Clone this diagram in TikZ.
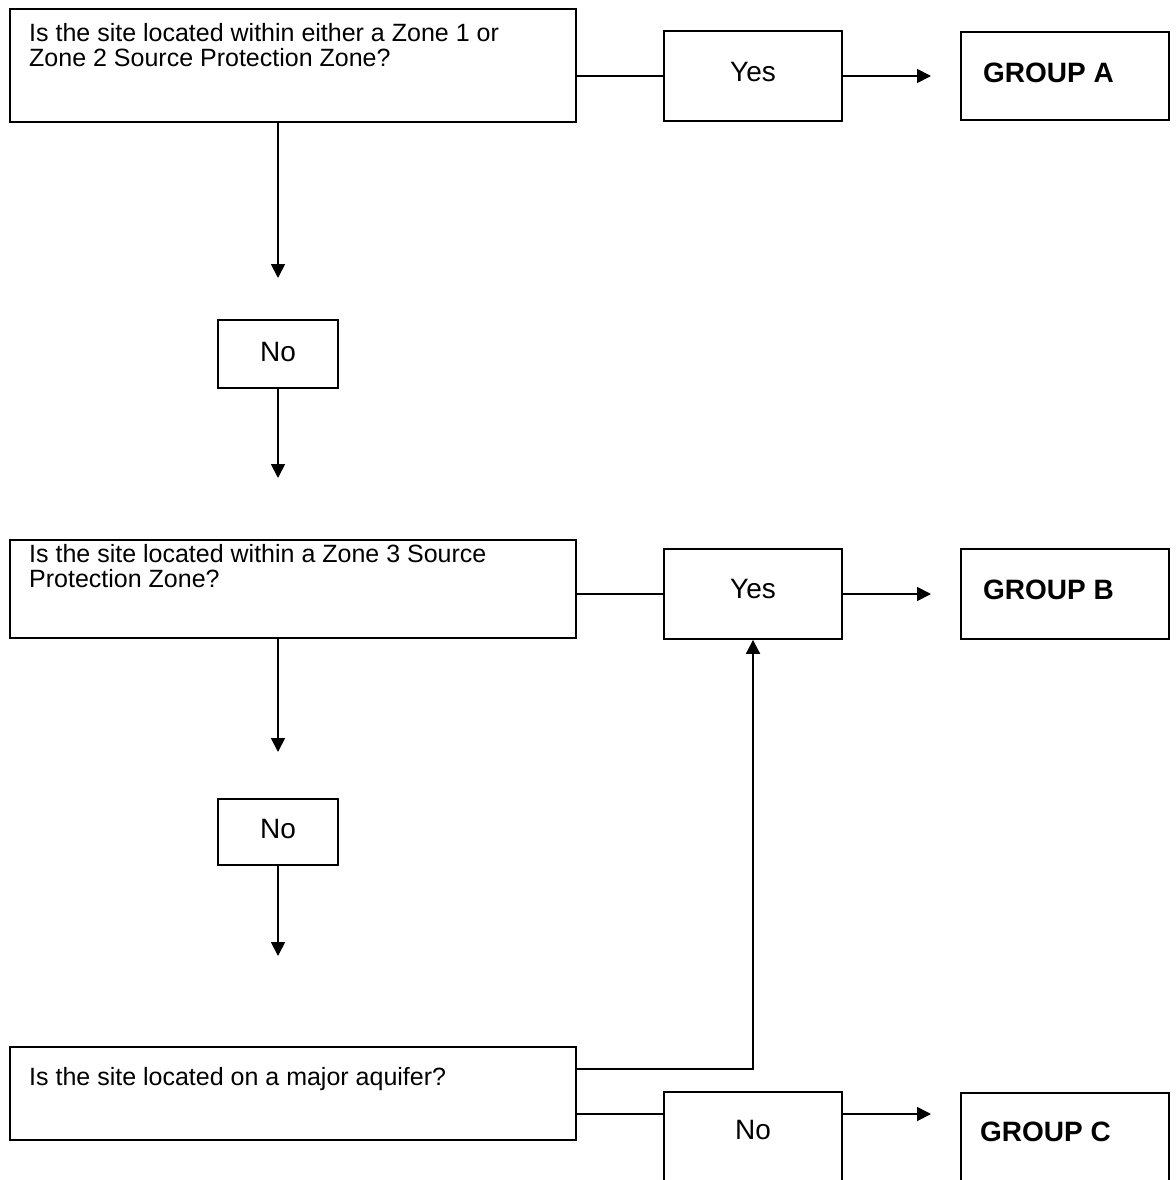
\documentclass[tikz,border=0pt]{standalone}
\usepackage{fontspec}
\setmainfont{Liberation Sans}
\usetikzlibrary{arrows.meta}
\begin{document}
\begin{tikzpicture}[x=1pt,y=-1pt,
  box/.style={draw, line width=1.8pt, rectangle, inner sep=0pt},
  conn/.style={line width=1.8pt},
  arr/.style={line width=1.8pt, -{Triangle[length=14pt,width=14pt]}},
  qtext/.style={inner sep=0pt, anchor=base west, font=\fontsize{25}{30}\selectfont},
  ans/.style={inner sep=0pt, font=\fontsize{28}{32}\selectfont},
  grp/.style={inner sep=0pt, anchor=west, font=\fontsize{28}{32}\selectfont\bfseries}]
\clip (0,0) rectangle (1175,1180);
\fill[white] (0,0) rectangle (1175,1180);
% boxes
\node[box, minimum width=566pt, minimum height=113pt] (q1) at (293,65.5) {};
\node[box, minimum width=178pt, minimum height=90pt] (y1) at (753,76) {};
\node[box, minimum width=208pt, minimum height=88pt] (ga) at (1065,76) {};
\node[box, minimum width=120pt, minimum height=68pt] (n1) at (278,354) {};
\node[box, minimum width=566pt, minimum height=98pt] (q2) at (293,589) {};
\node[box, minimum width=178pt, minimum height=90pt] (y2) at (753,594) {};
\node[box, minimum width=208pt, minimum height=90pt] (gb) at (1065,594) {};
\node[box, minimum width=120pt, minimum height=66pt] (n2) at (278,832) {};
\node[box, minimum width=566pt, minimum height=93pt] (q3) at (293,1093.5) {};
\node[box, minimum width=178pt, minimum height=108pt] (n3) at (753,1146) {};
\node[box, minimum width=208pt, minimum height=107pt] (gc) at (1065,1146.5) {};
% texts
\node[qtext] (q1a) at (29,42) {Is the site located within either a Zone 1 or};
\node[qtext] (q1b) at (29,67) {Zone 2 Source Protection Zone?};
\node[ans] (y1t) at (753,72) {Yes};
\node[grp] (gat) at (983,73) {GROUP A};
\node[ans] (n1t) at (278,352) {No};
\node[qtext] (q2a) at (29,562) {Is the site located within a Zone 3 Source};
\node[qtext] (q2b) at (29,587) {Protection Zone?};
\node[ans] (y2t) at (753,589) {Yes};
\node[grp] (gbt) at (983,590) {GROUP B};
\node[ans] (n2t) at (278,829) {No};
\node[qtext] (q3a) at (29,1085) {Is the site located on a major aquifer?};
\node[ans] (n3t) at (753,1130) {No};
\node[grp] (gct) at (980,1132) {GROUP C};
% free ends
\coordinate (ta) at (931,76);
\coordinate (a1) at (278,278);
\coordinate (a2) at (278,478);
\coordinate (tb) at (931,594);
\coordinate (a3) at (278,752);
\coordinate (a4) at (278,956);
\coordinate (k1) at (753,1069);
\coordinate (k2) at (664,1114);
\coordinate (tc) at (931,1114);
% connectors
\draw[conn] (y1.west -| q1.east) -- (y1.west);
\draw[arr] (y1.east) -- (ta);
\draw[arr] (n1.north |- q1.south) -- (a1);
\draw[arr] (n1.south) -- (a2);
\draw[conn] (y2.west -| q2.east) -- (y2.west);
\draw[arr] (y2.east) -- (tb);
\draw[arr] (n2.north |- q2.south) -- (a3);
\draw[arr] (n2.south) -- (a4);
\draw[arr] (k1 -| q3.east) -- (k1) -- (y2.south);
\draw[conn] (k2 -| q3.east) -- (k2);
\draw[arr] (k2 -| n3.east) -- (tc);
\end{tikzpicture}
\end{document}
